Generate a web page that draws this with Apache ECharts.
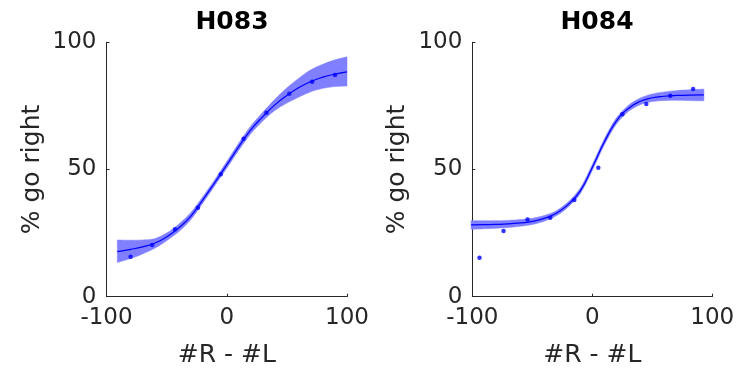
<!DOCTYPE html>
<html>
<head>
<meta charset="utf-8">
<script src="https://cdn.jsdelivr.net/npm/echarts@6/dist/echarts.min.js"></script>
<style>
  html, body { margin: 0; padding: 0; background: #fff; }
  #chart { width: 740px; height: 374px; }
</style>
</head>
<body>
<div id="chart"></div>
<script>
// subplot titles
const titles = ['H083', 'H084'];
const xTicks = [-100, 0, 100];
const yTicks = [0, 50, 100];

// H083: data points
const ptsX083 = [-80, -62, -43, -24, -5, 14, 33, 52, 71, 90];
const ptsY083 = [15.7, 20.3, 26.5, 35.0, 48.1, 62.1, 72.3, 79.8, 84.5, 87.1];
// H083: fitted curve and its confidence band
const fitX083 = [-91, -80, -70, -60, -50, -40, -30, -20, -10, 0, 10, 20, 30, 40, 50, 60, 70, 80, 90, 100];
const fitY083 = [17.7, 18.6, 19.6, 21.0, 23.5, 27.0, 31.6, 38.0, 44.8, 51.8, 59.0, 65.6, 70.8, 75.4, 79.1, 82.2, 84.6, 86.3, 87.5, 88.4];
const hiY083 = [22.3, 22.2, 22.3, 22.8, 25.0, 28.5, 33.0, 39.3, 46.0, 53.1, 60.4, 67.1, 72.5, 77.6, 82.1, 85.9, 89.2, 91.4, 93.1, 94.3];
const loY083 = [13.4, 15.0, 16.8, 19.0, 22.0, 25.5, 30.2, 36.7, 43.6, 50.5, 57.6, 64.1, 69.1, 73.2, 76.1, 78.5, 80.6, 81.9, 82.6, 82.8];

// H084: data points
const ptsX084 = [-94, -74, -54, -35, -15, 5, 25, 45, 65, 84];
const ptsY084 = [15.3, 25.8, 30.3, 31.0, 38.0, 50.7, 71.7, 75.7, 79.0, 81.6];
// H084: fitted curve and its confidence band
const fitX084 = [-101, -90, -80, -70, -60, -50, -40, -30, -20, -10, 0, 10, 20, 30, 40, 50, 60, 70, 80, 93];
const fitY084 = [28.2, 28.3, 28.4, 28.6, 29.0, 29.6, 30.8, 32.8, 36.3, 41.6, 50.8, 60.8, 69.0, 74.0, 76.8, 78.2, 78.8, 79.1, 79.2, 79.3];
const hiY084 = [29.9, 29.9, 29.9, 30.0, 30.3, 30.8, 31.9, 33.8, 37.3, 42.7, 52.0, 62.0, 70.2, 75.2, 78.1, 79.7, 80.5, 81.0, 81.3, 81.6];
const loY084 = [26.5, 26.7, 26.9, 27.2, 27.7, 28.4, 29.7, 31.8, 35.3, 40.5, 49.6, 59.6, 67.8, 72.8, 75.5, 76.7, 77.1, 77.2, 77.1, 77.0];

const FONT = 'DejaVu Sans';
const AXIS_COLOR = '#262626';

const zip = (xs, ys) => xs.map((x, i) => [x, ys[i]]);

const panels = [
  { fx: fitX083, fy: fitY083, hi: hiY083, lo: loY083, px: ptsX083, py: ptsY083 },
  { fx: fitX084, fy: fitY084, hi: hiY084, lo: loY084, px: ptsX084, py: ptsY084 }
];

const grids = [
  { left: 106.5, right: 393, top: 42.3, bottom: 77.3 },
  { left: 472.3, right: 27.7, top: 42.3, bottom: 77.3 }
];

const xAxisOf = (i) => ({
  type: 'value', gridIndex: i, min: -100, max: 100, interval: 100,
  name: '#R - #L', nameLocation: 'middle', nameGap: 46,
  nameTextStyle: { fontFamily: FONT, fontSize: 25, color: AXIS_COLOR },
  axisLine: { show: true, onZero: false, lineStyle: { color: AXIS_COLOR, width: 1 } },
  axisTick: { show: true, inside: true, length: 3, lineStyle: { color: AXIS_COLOR } },
  axisLabel: { fontFamily: FONT, fontSize: 23, color: AXIS_COLOR, margin: 10 },
  splitLine: { show: false }
});

const yAxisOf = (i) => ({
  type: 'value', gridIndex: i, min: 0, max: 100, interval: 50,
  name: '% go right', nameLocation: 'middle', nameGap: 62, nameRotate: 90,
  nameTextStyle: { fontFamily: FONT, fontSize: 25, color: AXIS_COLOR },
  axisLine: { show: true, onZero: false, lineStyle: { color: AXIS_COLOR, width: 1 } },
  axisTick: { show: true, inside: true, length: 3, lineStyle: { color: AXIS_COLOR } },
  axisLabel: { fontFamily: FONT, fontSize: 23, color: AXIS_COLOR, margin: 10 },
  splitLine: { show: false }
});

// confidence band: polygon along the upper edge, back along the lower edge.
// the end points are doubled so the smoothing keeps the corners square
const bandRenderer = (p) => (params, api) => {
  const upper = p.fx.map((x, k) => api.coord([x, p.hi[k]]));
  const lower = p.fx.map((x, k) => api.coord([x, p.lo[k]])).reverse();
  const n = upper.length;
  const pts = [upper[0]].concat(upper, [upper[n - 1], lower[0]], lower, [lower[n - 1]]);
  return {
    type: 'polygon',
    shape: { points: pts, smooth: 0.3 },
    style: { fill: '#7f7fff', stroke: '#7f7fff', lineWidth: 0.5 }
  };
};

const series = [];
panels.forEach((p, i) => {
  series.push({
    type: 'custom', xAxisIndex: i, yAxisIndex: i, silent: true,
    renderItem: bandRenderer(p),
    data: [[p.fx[0], p.fy[0]]]
  });
  series.push({
    type: 'line', xAxisIndex: i, yAxisIndex: i, smooth: 0.5,
    symbol: 'none', z: 3,
    lineStyle: { color: '#0000ff', width: 1.2 },
    data: zip(p.fx, p.fy)
  });
  series.push({
    type: 'scatter', xAxisIndex: i, yAxisIndex: i, z: 4,
    symbol: 'circle', symbolSize: 4.5,
    itemStyle: { color: '#0000ff' },
    data: zip(p.px, p.py)
  });
});

const chart = echarts.init(document.getElementById('chart'));
chart.setOption({
  backgroundColor: '#ffffff',
  animation: false,
  title: titles.map((t, i) => ({
    text: t,
    left: i === 0 ? 227 : 592, top: 5, textAlign: 'center',
    textStyle: { fontFamily: FONT, fontSize: 25, fontWeight: 'bold', color: '#000' }
  })),
  grid: grids,
  xAxis: [xAxisOf(0), xAxisOf(1)],
  yAxis: [yAxisOf(0), yAxisOf(1)],
  series: series
});
</script>
</body>
</html>
